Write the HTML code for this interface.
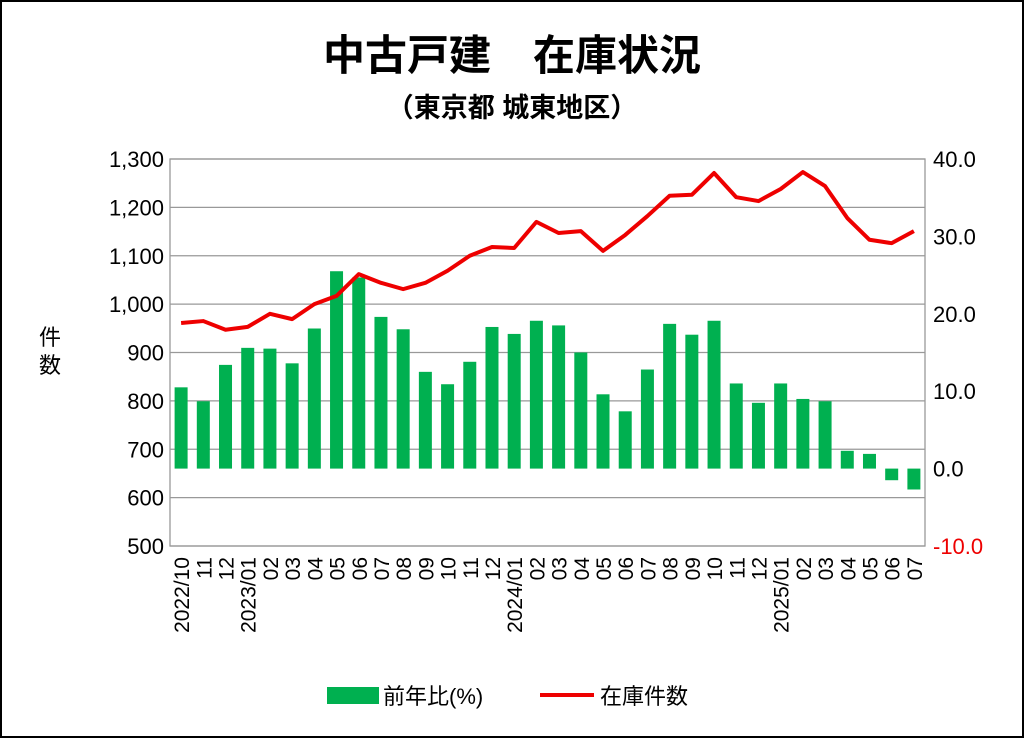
<!DOCTYPE html>
<html><head><meta charset="utf-8"><style>
body{margin:0;background:#fff}
svg{display:block;font-family:"Liberation Sans","Noto Sans CJK JP",sans-serif}
</style></head><body>
<svg id="c" width="1024" height="738" viewBox="0 0 1024 738">
<rect x="1" y="1" width="1022" height="736" fill="#fff" stroke="#000" stroke-width="2"/>
<text x="512" y="70" text-anchor="middle" font-size="42" font-weight="bold">中古戸建　在庫状況</text>
<text x="512" y="117" text-anchor="middle" font-size="27" font-weight="bold">（東京都 城東地区）</text>
<text x="50" y="345" text-anchor="middle" font-size="22"><tspan x="50">件</tspan><tspan x="50" dy="28">数</tspan></text>
<g id="g"></g>
<g>
<rect x="327" y="687" width="52" height="17" fill="#00b050"/>
<text x="383" y="704" font-size="22">前年比(%)</text>
<line x1="540" y1="695" x2="594" y2="695" stroke="#e00" stroke-width="4"/>
<text x="600" y="704" font-size="22">在庫件数</text>
</g>
</svg>
<script>
const categories=["2022/10","11","12","2023/01","02","03","04","05","06","07","08","09","10","11","12","2024/01","02","03","04","05","06","07","08","09","10","11","12","2025/01","02","03","04","05","06","07"];
const yoyValues=[10.5,8.7,13.4,15.6,15.5,13.6,18.1,25.5,24.7,19.6,18.0,12.5,10.9,13.8,18.3,17.4,19.1,18.5,15.0,9.6,7.4,12.8,18.7,17.3,19.1,11.0,8.5,11.0,9.0,8.7,2.3,1.9,-1.5,-2.7];
const stockValues=[961,965,947,953,980,969,1000,1017,1062,1044,1031,1044,1069,1100,1118,1116,1170,1147,1151,1110,1143,1182,1224,1226,1271,1221,1213,1238,1273,1244,1178,1133,1126,1151];
const leftTicks=["500","600","700","800","900","1,000","1,100","1,200","1,300"];
const rightTicks=["-10.0","0.0","10.0","20.0","30.0","40.0"];
const X0=170,X1=925,Y0=159,Y1=546;
const NS="http://www.w3.org/2000/svg",g=document.getElementById('g');
function mk(t,a,p){const e=document.createElementNS(NS,t);for(const k in a)e.setAttribute(k,a[k]);(p||g).appendChild(e);return e;}
const bw=(X1-X0)/categories.length;
const xC=i=>X0+bw*(i+0.5);
const yL=v=>Y1-(v-500)/800*(Y1-Y0);
const yR=v=>Y1-(v+10)/50*(Y1-Y0);
leftTicks.forEach((t,i)=>{const v=500+i*100,y=yL(v);
 const l=mk('line',{x1:X0,x2:X1,y1:y,y2:y,stroke:'#999','stroke-width':1.3});
 
 const tx=mk('text',{x:X0-6,y:y+8,'text-anchor':'end','font-size':22});tx.textContent=t;
 });
rightTicks.forEach((t,i)=>{const v=-10+i*10,y=yR(v);
 const tx=mk('text',{x:X1+8,y:y+8,'font-size':22,fill:v<0?'#e00':'#000'});tx.textContent=t;
 });
const fr=mk('rect',{x:X0,y:Y0,width:X1-X0,height:Y1-Y0,fill:'none',stroke:'#999','stroke-width':1.3});

yoyValues.forEach((v,i)=>{const y0=yR(0),y=yR(v);
 const r=mk('rect',{x:xC(i)-6.5,y:Math.min(y,y0),width:13,height:Math.abs(y0-y),fill:'#00b050'});
 });
const pl=mk('polyline',{points:stockValues.map((v,i)=>xC(i)+','+yL(v)).join(' '),fill:'none',stroke:'#e00','stroke-width':4,'stroke-linejoin':'round'});

categories.forEach((c,i)=>{const x=xC(i)+8,y=557;
 const t=mk('text',{x:x,y:y,'text-anchor':'end','font-size':21,transform:`rotate(-90 ${x} ${y})`});t.textContent=c;
 });
</script>
</body></html>
